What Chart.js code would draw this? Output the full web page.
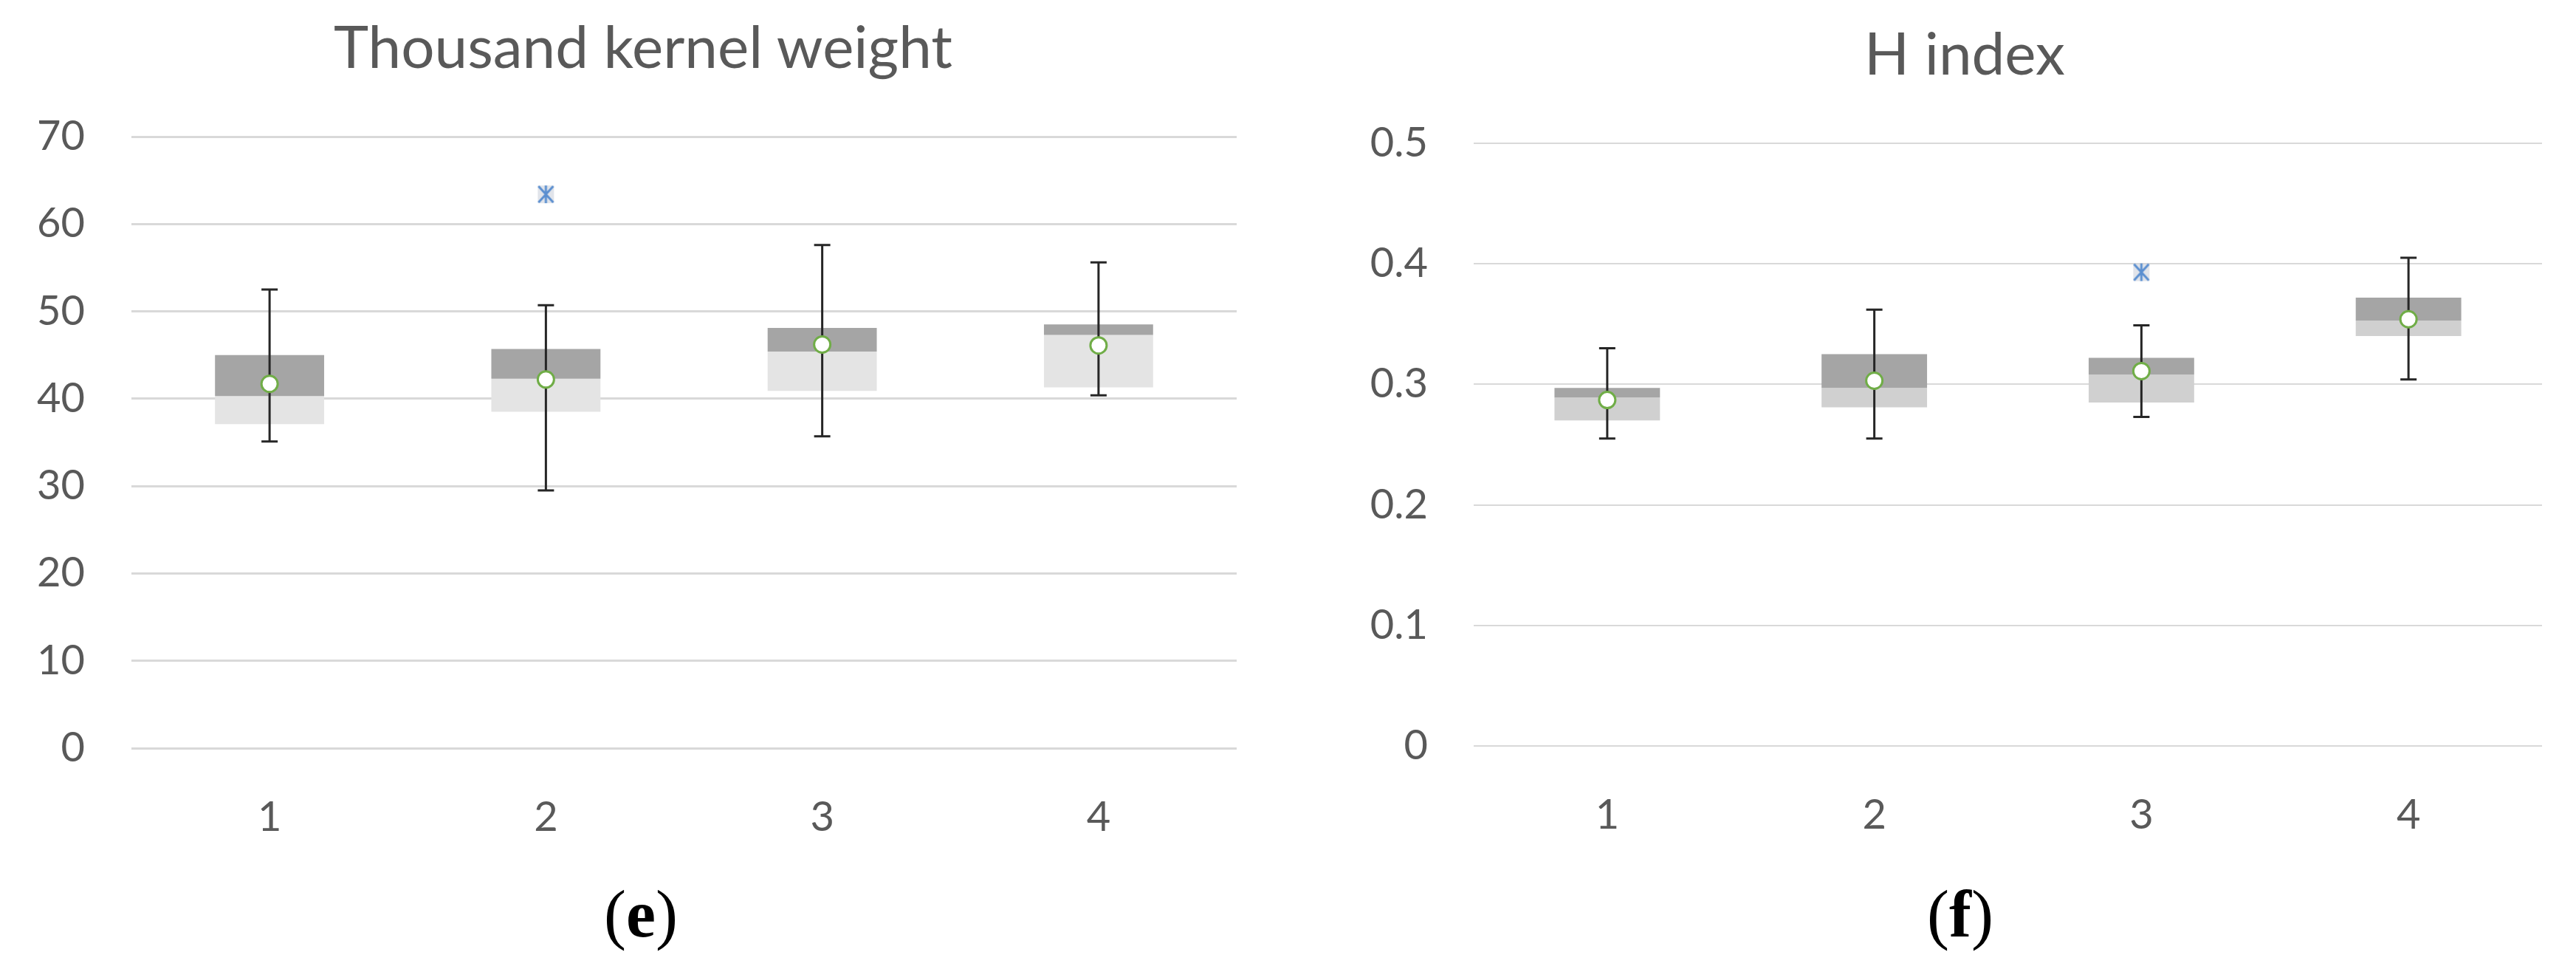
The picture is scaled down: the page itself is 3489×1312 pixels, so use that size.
<!DOCTYPE html>
<html>
<head>
<meta charset="utf-8">
<script src="https://cdn.jsdelivr.net/npm/chart.js@4.4.1/dist/chart.umd.min.js"></script>
<style>
  body { margin: 0; width: 3489px; height: 1312px; background: #fff; position: relative; overflow: hidden; }
  canvas { position: absolute; top: 0; }
  .title { position: absolute; font-family: Lato, sans-serif; font-size: 80px; color: #595959; white-space: nowrap; transform: translateX(-50%); line-height: 1; }
  .caption { position: absolute; font-family: "Liberation Serif", serif; font-size: 90px; color: #000; transform: translateX(-50%); line-height: 1; }
</style>
</head>
<body>
<div class="title" style="left:871px; top:21px;">Thousand kernel weight</div>
<div class="title" style="left:2661px; top:30px;">H index</div>
<canvas id="tkwChart" width="1745" height="1312" style="left:0"></canvas>
<canvas id="hChart" width="1744" height="1312" style="left:1745px"></canvas>
<div class="caption" style="left:868px; top:1193px;">(<b>e</b>)</div>
<div class="caption" style="left:2655px; top:1193px;">(<b>f</b>)</div>

<script>
const categories = ["1", "2", "3", "4"];

// Thousand kernel weight
const tkwMin = [35.1, 29.5, 35.7, 40.4];
const tkwQ1 = [37.1, 38.5, 40.9, 41.3];
const tkwMedian = [40.3, 42.3, 45.4, 47.3];
const tkwQ3 = [45.0, 45.7, 48.1, 48.5];
const tkwMax = [52.5, 50.7, 57.6, 55.6];
const tkwMean = [41.7, 42.2, 46.2, 46.1];
const tkwOutliers = [null, 63.4, null, null];

// H index
const hMin = [0.255, 0.255, 0.273, 0.304];
const hQ1 = [0.270, 0.281, 0.285, 0.340];
const hMedian = [0.289, 0.297, 0.308, 0.353];
const hQ3 = [0.297, 0.325, 0.322, 0.372];
const hMax = [0.330, 0.362, 0.349, 0.405];
const hMean = [0.287, 0.303, 0.311, 0.354];
const hOutliers = [null, null, 0.393, null];

// outlier marker: X with a vertical stroke, like the Excel one
const outlierMark = document.createElement("canvas");
outlierMark.width = 26;
outlierMark.height = 28;
(function () {
    const c = outlierMark.getContext("2d");
    c.fillStyle = "rgba(205,210,220,0.6)";
    c.fillRect(2, 2, 22, 24);
    c.strokeStyle = "#5b8fd0";
    c.lineWidth = 3;
    c.beginPath();
    c.moveTo(3, 3); c.lineTo(23, 25);
    c.moveTo(23, 3); c.lineTo(3, 25);
    c.moveTo(13, 2); c.lineTo(13, 26);
    c.stroke();
})();

const whiskerPlugin = {
    id: "whiskers",
    afterDatasetDraw(chart, args, opts) {
        if (args.index !== 1) return;
        const ctx = chart.ctx;
        const x = chart.scales.x;
        const y = chart.scales.y;
        ctx.save();
        ctx.strokeStyle = "#262626";
        ctx.lineWidth = 3;
        opts.low.forEach((lo, i) => {
            const px = x.getPixelForValue(i);
            const yLo = y.getPixelForValue(lo);
            const yHi = y.getPixelForValue(opts.high[i]);
            ctx.beginPath();
            ctx.moveTo(px, yLo);
            ctx.lineTo(px, yHi);
            ctx.moveTo(px - 11, yLo);
            ctx.lineTo(px + 11, yLo);
            ctx.moveTo(px - 11, yHi);
            ctx.lineTo(px + 11, yHi);
            ctx.stroke();
        });
        ctx.restore();
    }
};

function makeBoxChart(id, s) {
    const ctx = document.getElementById(id).getContext("2d");
    return new Chart(ctx, {
        data: {
            labels: categories,
            datasets: [
                {
                    type: "bar",
                    data: s.q1.map((v, i) => [v, s.median[i]]),
                    backgroundColor: s.lightColor,
                    grouped: false,
                    order: 2,
                    barPercentage: 0.395,
                    categoryPercentage: 1
                },
                {
                    type: "bar",
                    data: s.median.map((v, i) => [v, s.q3[i]]),
                    backgroundColor: "#a5a5a5",
                    grouped: false,
                    order: 1,
                    barPercentage: 0.395,
                    categoryPercentage: 1
                },
                {
                    type: "line",
                    data: s.mean,
                    showLine: false,
                    pointStyle: "circle",
                    pointRadius: 11,
                    pointBorderWidth: 3,
                    pointBorderColor: "#70ad47",
                    pointBackgroundColor: "#ffffff",
                    order: 0
                },
                {
                    type: "line",
                    data: s.outliers,
                    showLine: false,
                    pointStyle: outlierMark,
                    order: 0
                }
            ]
        },
        options: {
            responsive: false,
            devicePixelRatio: 1,
            animation: false,
            layout: { padding: s.padding },
            plugins: {
                legend: { display: false },
                tooltip: { enabled: false },
                whiskers: { low: s.min, high: s.max }
            },
            scales: {
                x: {
                    grid: { display: false },
                    border: { display: false },
                    ticks: { color: "#595959", font: { family: "Lato", size: 56 }, padding: 52 },
                    afterFit: (scale) => { scale.height = 150; }
                },
                y: {
                    min: 0,
                    max: s.yMax,
                    ticks: { stepSize: s.step, color: "#595959", font: { family: "Lato", size: 56 }, padding: s.tickPad },
                    grid: { color: "#d9d9d9", lineWidth: s.gridWidth, drawTicks: false },
                    border: { display: false },
                    afterFit: (scale) => { scale.width = s.axisWidth; }
                }
            }
        },
        plugins: [whiskerPlugin]
    });
}

makeBoxChart("tkwChart", {
    min: tkwMin, q1: tkwQ1, median: tkwMedian, q3: tkwQ3, max: tkwMax,
    mean: tkwMean, outliers: tkwOutliers,
    lightColor: "#e4e4e4",
    yMax: 70, step: 10,
    padding: { top: 185, right: 70, bottom: 149, left: 0 },
    axisWidth: 178, tickPad: 63, gridWidth: 3
});

makeBoxChart("hChart", {
    min: hMin, q1: hQ1, median: hMedian, q3: hQ3, max: hMax,
    mean: hMean, outliers: hOutliers,
    lightColor: "#d0d0d0",
    yMax: 0.5, step: 0.1,
    padding: { top: 194, right: 46, bottom: 152, left: 0 },
    axisWidth: 251, tickPad: 62, gridWidth: 2
});
</script>
</body>
</html>
